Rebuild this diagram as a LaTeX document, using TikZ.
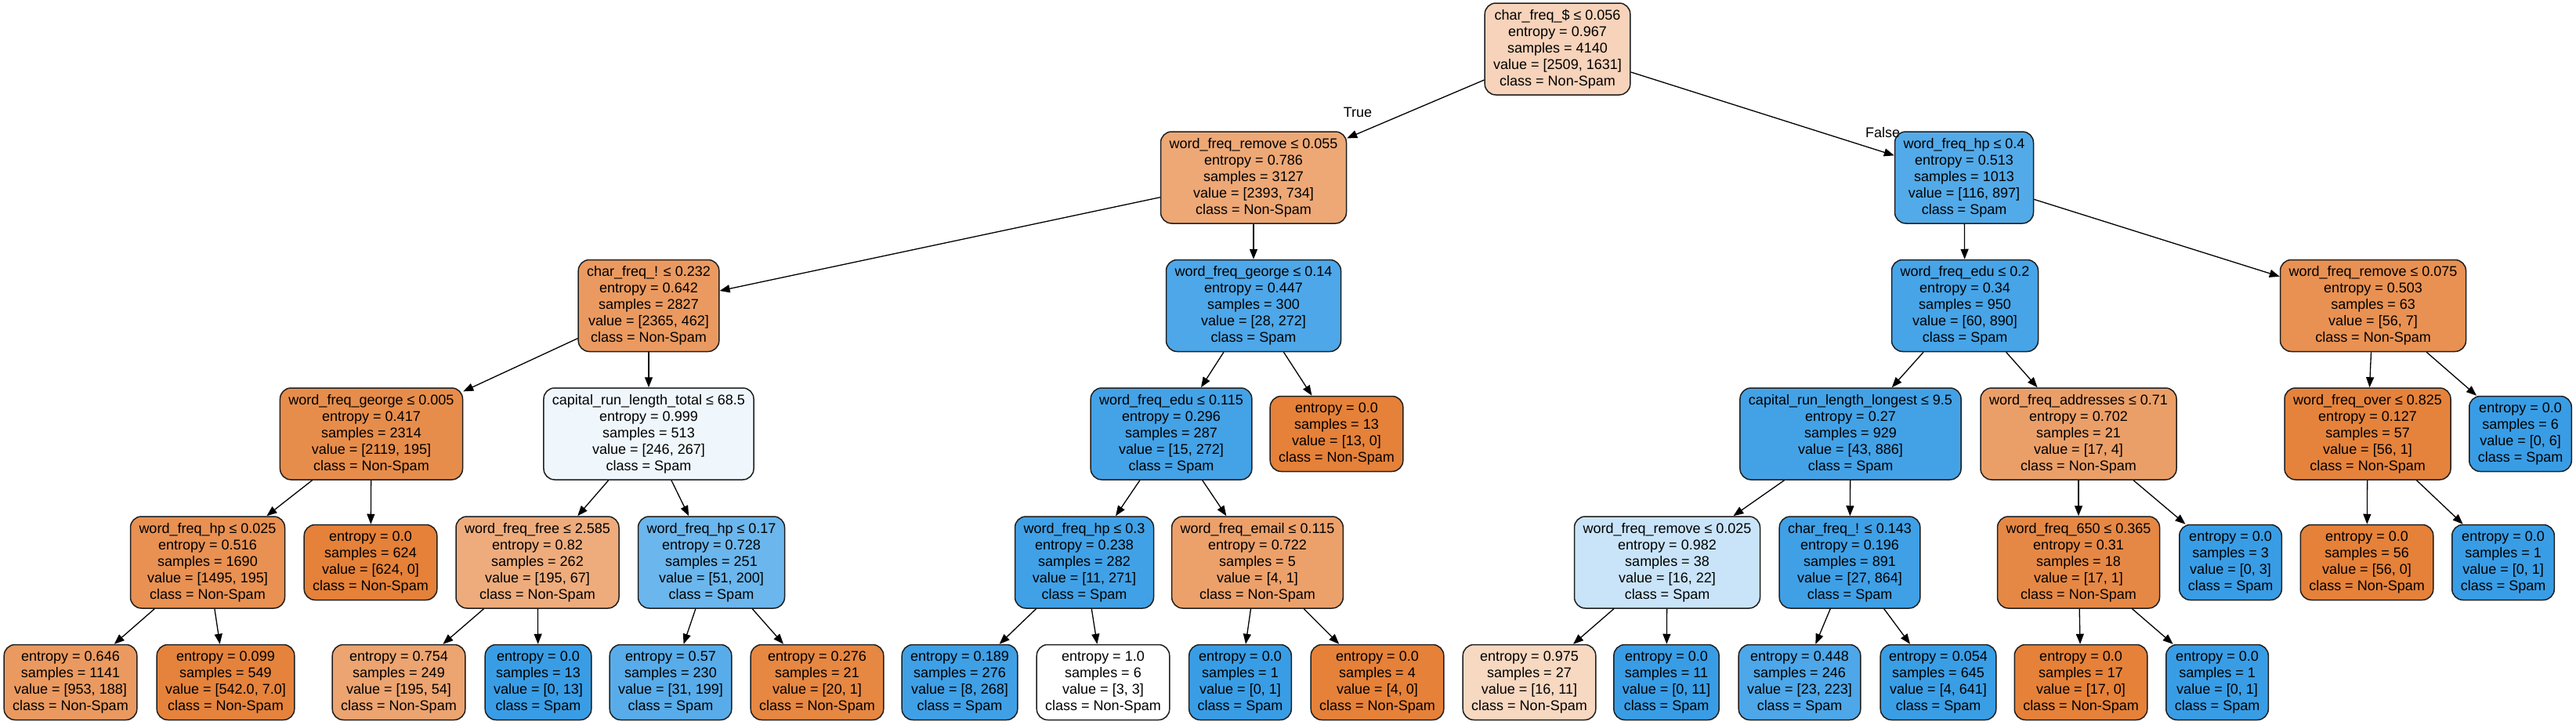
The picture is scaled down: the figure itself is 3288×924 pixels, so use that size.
\documentclass[tikz,border=0pt]{standalone}
\usepackage{fontspec}
\setmainfont{Liberation Sans}
\usetikzlibrary{arrows.meta}
\definecolor{orng}{RGB}{229,129,57}
\definecolor{blu}{RGB}{57,157,229}
\definecolor{k0}{RGB}{246,211,186}
\definecolor{k1}{RGB}{237,168,118}
\definecolor{k2}{RGB}{234,154,96}
\definecolor{k3}{RGB}{231,141,75}
\definecolor{k4}{RGB}{232,145,83}
\definecolor{k6}{RGB}{229,131,60}
\definecolor{k8}{RGB}{239,247,253}
\definecolor{k9}{RGB}{238,172,125}
\definecolor{k10}{RGB}{236,164,112}
\definecolor{k12}{RGB}{107,182,236}
\definecolor{k13}{RGB}{88,172,233}
\definecolor{k14}{RGB}{230,135,66}
\definecolor{k15}{RGB}{77,167,232}
\definecolor{k16}{RGB}{68,162,230}
\definecolor{k17}{RGB}{65,161,230}
\definecolor{k18}{RGB}{63,160,230}
\definecolor{k20}{RGB}{236,161,107}
\definecolor{k24}{RGB}{83,170,232}
\definecolor{k25}{RGB}{70,164,231}
\definecolor{k26}{RGB}{67,162,230}
\definecolor{k27}{RGB}{201,228,248}
\definecolor{k28}{RGB}{247,216,193}
\definecolor{k32}{RGB}{58,158,229}
\definecolor{k33}{RGB}{235,159,104}
\definecolor{k34}{RGB}{230,136,69}
\definecolor{k38}{RGB}{232,145,82}
\definecolor{bordc}{RGB}{30,30,30}
\tikzset{
  box/.style={draw=bordc, line width=1.5pt, rounded corners=14pt, align=center,
    inner xsep=11pt, inner ysep=4pt, font=\fontsize{18}{21}\selectfont},
  split/.style={box, minimum height=117pt},
  leaf/.style={box, minimum height=96pt},
  edge/.style={line width=1.3pt, -{Triangle[length=13pt,width=10pt]}},
  elabel/.style={font=\fontsize{18}{21}\selectfont, inner sep=0pt}
}
\begin{document}
\begin{tikzpicture}[x=1pt,y=-1pt]
\useasboundingbox (0,0) rectangle (3288,924);
% rank 0
\node[split, fill=k0] (n0) at (1988,62.5) {char\_freq\_\$ ≤ 0.056\\entropy = 0.967\\samples = 4140\\value = [2509, 1631]\\class = Non-Spam};
% rank 1
\node[split, fill=k1] (n1) at (1600,226.5) {word\_freq\_remove ≤ 0.055\\entropy = 0.786\\samples = 3127\\value = [2393, 734]\\class = Non-Spam};
\node[split, fill=k24] (n24) at (2507,226.5) {word\_freq\_hp ≤ 0.4\\entropy = 0.513\\samples = 1013\\value = [116, 897]\\class = Spam};
% rank 2
\node[split, fill=k2] (n2) at (828,390) {char\_freq\_! ≤ 0.232\\entropy = 0.642\\samples = 2827\\value = [2365, 462]\\class = Non-Spam};
\node[split, fill=k15] (n15) at (1600,390) {word\_freq\_george ≤ 0.14\\entropy = 0.447\\samples = 300\\value = [28, 272]\\class = Spam};
\node[split, fill=k25] (n25) at (2508,390) {word\_freq\_edu ≤ 0.2\\entropy = 0.34\\samples = 950\\value = [60, 890]\\class = Spam};
\node[split, fill=k38] (n38) at (3029,390) {word\_freq\_remove ≤ 0.075\\entropy = 0.503\\samples = 63\\value = [56, 7]\\class = Non-Spam};
% rank 3
\node[split, fill=k3] (n3) at (474,553.5) {word\_freq\_george ≤ 0.005\\entropy = 0.417\\samples = 2314\\value = [2119, 195]\\class = Non-Spam};
\node[split, fill=k8] (n8) at (828,553.5) {capital\_run\_length\_total ≤ 68.5\\entropy = 0.999\\samples = 513\\value = [246, 267]\\class = Spam};
\node[split, fill=k16] (n16) at (1495,553.5) {word\_freq\_edu ≤ 0.115\\entropy = 0.296\\samples = 287\\value = [15, 272]\\class = Spam};
\node[leaf, fill=orng] (n23) at (1706,553.5) {entropy = 0.0\\samples = 13\\value = [13, 0]\\class = Non-Spam};
\node[split, fill=k26] (n26) at (2362,553.5) {capital\_run\_length\_longest ≤ 9.5\\entropy = 0.27\\samples = 929\\value = [43, 886]\\class = Spam};
\node[split, fill=k33] (n33) at (2653,553.5) {word\_freq\_addresses ≤ 0.71\\entropy = 0.702\\samples = 21\\value = [17, 4]\\class = Non-Spam};
\node[split, fill=k6] (n39) at (3022,553.5) {word\_freq\_over ≤ 0.825\\entropy = 0.127\\samples = 57\\value = [56, 1]\\class = Non-Spam};
\node[leaf, fill=blu] (n42) at (3217,553.5) {entropy = 0.0\\samples = 6\\value = [0, 6]\\class = Spam};
% rank 4
\node[split, fill=k4] (n4) at (265,717.5) {word\_freq\_hp ≤ 0.025\\entropy = 0.516\\samples = 1690\\value = [1495, 195]\\class = Non-Spam};
\node[leaf, fill=orng] (n7) at (473,717.5) {entropy = 0.0\\samples = 624\\value = [624, 0]\\class = Non-Spam};
\node[split, fill=k9] (n9) at (686,717.5) {word\_freq\_free ≤ 2.585\\entropy = 0.82\\samples = 262\\value = [195, 67]\\class = Non-Spam};
\node[split, fill=k12] (n12) at (908,717.5) {word\_freq\_hp ≤ 0.17\\entropy = 0.728\\samples = 251\\value = [51, 200]\\class = Spam};
\node[split, fill=k17] (n17) at (1384,717.5) {word\_freq\_hp ≤ 0.3\\entropy = 0.238\\samples = 282\\value = [11, 271]\\class = Spam};
\node[split, fill=k20] (n20) at (1605,717.5) {word\_freq\_email ≤ 0.115\\entropy = 0.722\\samples = 5\\value = [4, 1]\\class = Non-Spam};
\node[split, fill=k27] (n27) at (2128,717.5) {word\_freq\_remove ≤ 0.025\\entropy = 0.982\\samples = 38\\value = [16, 22]\\class = Spam};
\node[split, fill=k18] (n30) at (2361,717.5) {char\_freq\_! ≤ 0.143\\entropy = 0.196\\samples = 891\\value = [27, 864]\\class = Spam};
\node[split, fill=k34] (n34) at (2653,717.5) {word\_freq\_650 ≤ 0.365\\entropy = 0.31\\samples = 18\\value = [17, 1]\\class = Non-Spam};
\node[leaf, fill=blu] (n37) at (2847,717.5) {entropy = 0.0\\samples = 3\\value = [0, 3]\\class = Spam};
\node[leaf, fill=orng] (n40) at (3021,717.5) {entropy = 0.0\\samples = 56\\value = [56, 0]\\class = Non-Spam};
\node[leaf, fill=blu] (n41) at (3195,717.5) {entropy = 0.0\\samples = 1\\value = [0, 1]\\class = Spam};
% rank 5
\node[leaf, fill=k2] (n5) at (90,870.5) {entropy = 0.646\\samples = 1141\\value = [953, 188]\\class = Non-Spam};
\node[leaf, fill=k6] (n6) at (288,870.5) {entropy = 0.099\\samples = 549\\value = [542.0, 7.0]\\class = Non-Spam};
\node[leaf, fill=k10] (n10) at (509,870.5) {entropy = 0.754\\samples = 249\\value = [195, 54]\\class = Non-Spam};
\node[leaf, fill=blu] (n11) at (687,870.5) {entropy = 0.0\\samples = 13\\value = [0, 13]\\class = Spam};
\node[leaf, fill=k13] (n13) at (856,870.5) {entropy = 0.57\\samples = 230\\value = [31, 199]\\class = Spam};
\node[leaf, fill=k14] (n14) at (1043,870.5) {entropy = 0.276\\samples = 21\\value = [20, 1]\\class = Non-Spam};
\node[leaf, fill=k18] (n18) at (1225,870.5) {entropy = 0.189\\samples = 276\\value = [8, 268]\\class = Spam};
\node[leaf, fill=white] (n19) at (1408,870.5) {entropy = 1.0\\samples = 6\\value = [3, 3]\\class = Non-Spam};
\node[leaf, fill=blu] (n21) at (1583,870.5) {entropy = 0.0\\samples = 1\\value = [0, 1]\\class = Spam};
\node[leaf, fill=orng] (n22) at (1758,870.5) {entropy = 0.0\\samples = 4\\value = [4, 0]\\class = Non-Spam};
\node[leaf, fill=k28] (n28) at (1952,870.5) {entropy = 0.975\\samples = 27\\value = [16, 11]\\class = Non-Spam};
\node[leaf, fill=blu] (n29) at (2127,870.5) {entropy = 0.0\\samples = 11\\value = [0, 11]\\class = Spam};
\node[leaf, fill=k15] (n31) at (2297,870.5) {entropy = 0.448\\samples = 246\\value = [23, 223]\\class = Spam};
\node[leaf, fill=k32] (n32) at (2474,870.5) {entropy = 0.054\\samples = 645\\value = [4, 641]\\class = Spam};
\node[leaf, fill=orng] (n35) at (2656,870.5) {entropy = 0.0\\samples = 17\\value = [17, 0]\\class = Non-Spam};
\node[leaf, fill=blu] (n36) at (2830,870.5) {entropy = 0.0\\samples = 1\\value = [0, 1]\\class = Spam};
% labels
\node[elabel] (ltrue) at (1733,143) {True};
\node[elabel] (lfalse) at (2403,169) {False};
% edges
\draw[edge] (n0) -- (n1);
\draw[edge] (n0) -- (n24);
\draw[edge] (n1) -- (n2);
\draw[edge] (n1) -- (n15);
\draw[edge] (n2) -- (n3);
\draw[edge] (n2) -- (n8);
\draw[edge] (n3) -- (n4);
\draw[edge] (n3) -- (n7);
\draw[edge] (n4) -- (n5);
\draw[edge] (n4) -- (n6);
\draw[edge] (n8) -- (n9);
\draw[edge] (n8) -- (n12);
\draw[edge] (n9) -- (n10);
\draw[edge] (n9) -- (n11);
\draw[edge] (n12) -- (n13);
\draw[edge] (n12) -- (n14);
\draw[edge] (n15) -- (n16);
\draw[edge] (n15) -- (n23);
\draw[edge] (n16) -- (n17);
\draw[edge] (n16) -- (n20);
\draw[edge] (n17) -- (n18);
\draw[edge] (n17) -- (n19);
\draw[edge] (n20) -- (n21);
\draw[edge] (n20) -- (n22);
\draw[edge] (n24) -- (n25);
\draw[edge] (n24) -- (n38);
\draw[edge] (n25) -- (n26);
\draw[edge] (n25) -- (n33);
\draw[edge] (n26) -- (n27);
\draw[edge] (n26) -- (n30);
\draw[edge] (n27) -- (n28);
\draw[edge] (n27) -- (n29);
\draw[edge] (n30) -- (n31);
\draw[edge] (n30) -- (n32);
\draw[edge] (n33) -- (n34);
\draw[edge] (n33) -- (n37);
\draw[edge] (n34) -- (n35);
\draw[edge] (n34) -- (n36);
\draw[edge] (n38) -- (n39);
\draw[edge] (n38) -- (n42);
\draw[edge] (n39) -- (n40);
\draw[edge] (n39) -- (n41);
\end{tikzpicture}
\end{document}
